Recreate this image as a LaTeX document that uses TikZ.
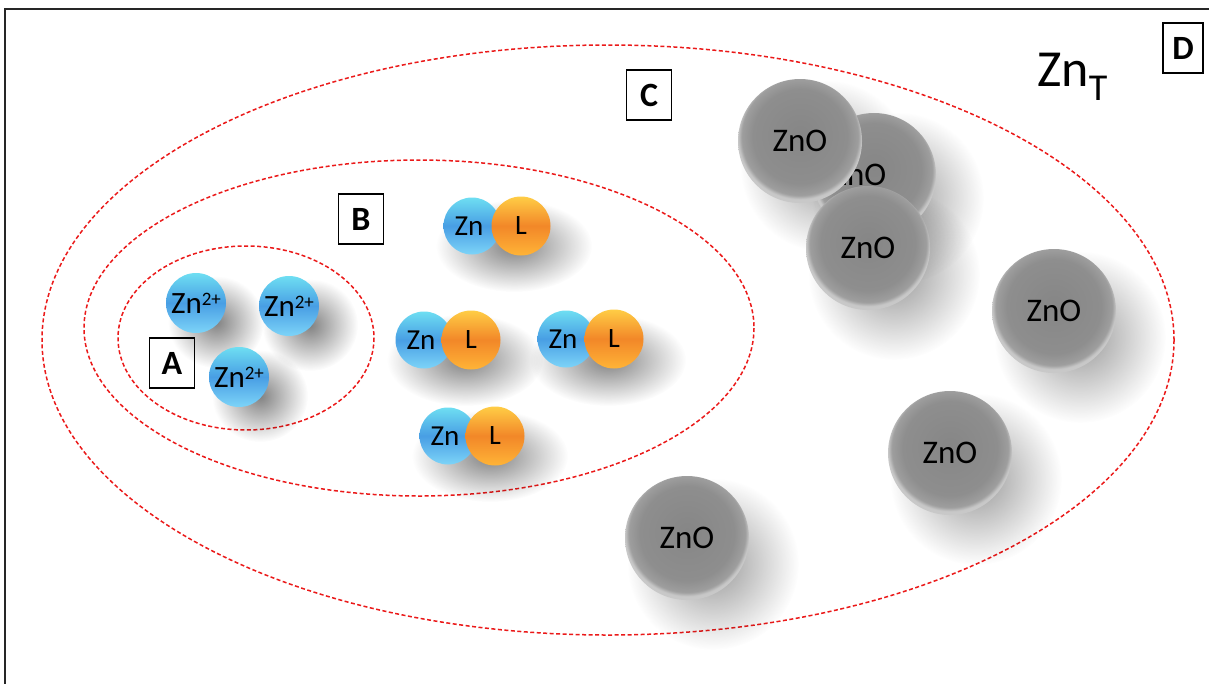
\documentclass[tikz,border=0pt]{standalone}
\usepackage{fontspec}
\setmainfont{Carlito}
\usetikzlibrary{fadings}
\definecolor{ionTop}{RGB}{110,222,242}
\definecolor{ionMid}{RGB}{72,158,228}
\definecolor{ionBot}{RGB}{125,212,248}
\definecolor{ligTop}{RGB}{255,205,70}
\definecolor{ligMid}{RGB}{242,135,40}
\definecolor{ligBot}{RGB}{255,180,55}
\definecolor{gA}{RGB}{134,134,134}
\definecolor{gB}{RGB}{142,142,142}
\definecolor{gC}{RGB}{158,158,158}
\definecolor{gD}{RGB}{200,200,200}
\definecolor{dashred}{RGB}{235,25,25}
\pgfdeclareradialshading{znoball}{\pgfpoint{0bp}{3bp}}{color(0bp)=(gA); color(19bp)=(gB); color(23.5bp)=(gC); color(25bp)=(gD); color(50bp)=(gD)}
\tikzfading[name=softshadow, inner color=transparent!10, outer color=transparent!100]
\newcommand{\shd}[5]{\fill[black, opacity=#5, path fading=softshadow] (#1,#2) ellipse [x radius=#3, y radius=#4];}
\begin{document}
\begin{tikzpicture}[x=1pt,y=-1pt,
  reddash/.style={draw=dashred, line width=1.5pt, dash pattern=on 4pt off 2.5pt},
  ion/.style={circle, minimum size=60pt, inner sep=0pt, top color=ionTop, bottom color=ionBot, middle color=ionMid, font=\fontsize{31}{31}\selectfont},
  znball/.style={circle, minimum size=57pt, inner sep=0pt, top color=ionTop, bottom color=ionBot, middle color=ionMid, font=\fontsize{29}{29}\selectfont},
  ligball/.style={circle, minimum size=59pt, inner sep=0pt, top color=ligTop, bottom color=ligBot, middle color=ligMid, font=\fontsize{28}{28}\selectfont},
  oxide/.style={circle, minimum size=124pt, inner sep=0pt, shading=znoball, font=\fontsize{33}{33}\selectfont},
  labbox/.style={draw, line width=1.3pt, minimum width=45pt, minimum height=50pt, inner sep=0pt, font=\bfseries\fontsize{34}{34}\selectfont}
]
\clip (0,0) rectangle (1209,683);
\useasboundingbox (0,0) rectangle (1209,683);
\fill[white] (0,0) rectangle (1209,683);
% frame
\draw[line width=2.4pt, black!85] (5,720) -- (5,9) -- (1240,9);
% regions
\draw[reddash] (608,340) ellipse [x radius=566, y radius=295];
\draw[reddash] (419,328) ellipse [x radius=335, y radius=168];
\draw[reddash] (246,338) ellipse [x radius=128, y radius=92];
% shadows
\shd{216}{322}{48}{46}{0.55}
\shd{310}{325}{48}{46}{0.55}
\shd{260}{396}{48}{46}{0.55}
\shd{514}{246}{78}{46}{0.55}
\shd{465}{360}{78}{46}{0.55}
\shd{608}{360}{78}{46}{0.55}
\shd{490}{456}{78}{46}{0.55}
\shd{898}{198}{86}{86}{0.45}
\shd{826}{166}{86}{86}{0.45}
\shd{894}{274}{86}{86}{0.45}
\shd{1080}{337}{86}{86}{0.45}
\shd{976}{479}{86}{86}{0.45}
\shd{713}{564}{86}{86}{0.45}
% Zn2+ ions
\node[ion] (i1) at (196,303) {Zn\raisebox{0.55ex}{\fontsize{19}{19}\selectfont 2+}};
\node[ion] (i2) at (289,306) {Zn\raisebox{0.55ex}{\fontsize{19}{19}\selectfont 2+}};
\node[ion] (i3) at (239,377) {Zn\raisebox{0.55ex}{\fontsize{19}{19}\selectfont 2+}};
% Zn-L complexes
\node[znball] (z1) at (472,226) {Zn\hspace*{6pt}};
\node[ligball] (l1) at (521,226) {L};
\node[znball] (z2) at (424,340) {Zn\hspace*{6pt}};
\node[ligball] (l2) at (471,340) {L};
\node[znball] (z3) at (566,339) {Zn\hspace*{6pt}};
\node[ligball] (l3) at (614,339) {L};
\node[znball] (z4) at (448,436) {Zn\hspace*{6pt}};
\node[ligball] (l4) at (495,436) {L};
% ZnO particles
\node[oxide] (o2) at (874,175) {\hspace*{-30pt}ZnO};
\node[oxide] (o1) at (800,141) {ZnO};
\node[oxide] (o3) at (868,248) {ZnO};
\node[oxide] (o4) at (1054,311) {ZnO};
\node[oxide] (o5) at (950,453) {ZnO};
\node[oxide] (o6) at (687,538) {ZnO};
% labels
\node[labbox] (A) at (172,363) {A};
\node[labbox] (B) at (361,219) {B};
\node[labbox] (C) at (649,95) {C};
\node[labbox, minimum width=40pt] (D) at (1183,48) {D};
\node[anchor=base west, inner sep=0pt, font=\fontsize{52}{52}\selectfont] (znt) at (1037,86) {Zn\raisebox{-14pt}{\fontsize{38}{38}\selectfont T}};
\end{tikzpicture}
\end{document}
